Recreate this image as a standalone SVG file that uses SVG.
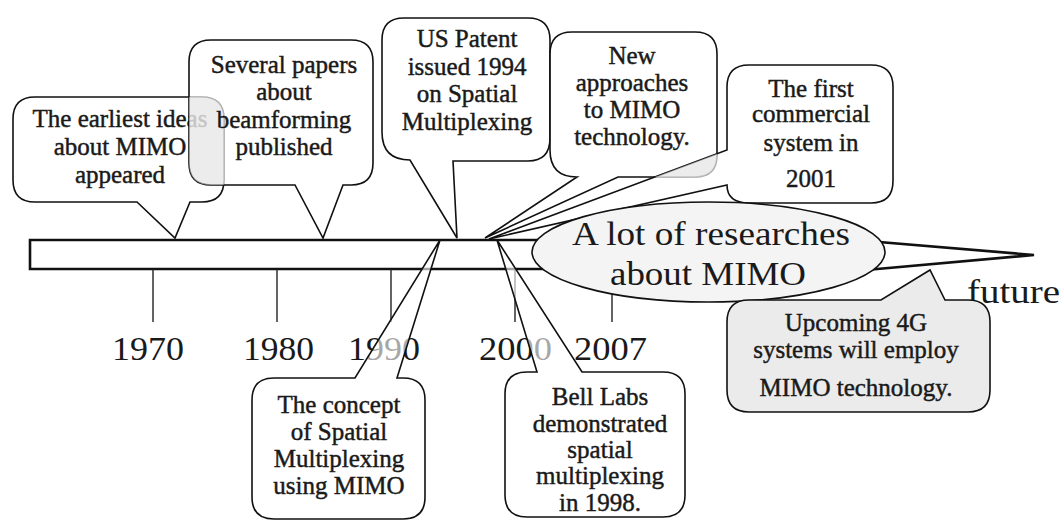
<svg xmlns="http://www.w3.org/2000/svg" width="1064" height="520" viewBox="0 0 1064 520">
<style>
.co{fill:#ffffff;fill-opacity:0.62;stroke:#111;stroke-width:1.6;stroke-linejoin:miter}
.ct{font-family:"Liberation Serif","Times New Roman",serif;font-size:25px;fill:#1a1a1a;stroke:#1a1a1a;stroke-width:0.45;text-anchor:middle}
.yr{font-family:"Liberation Serif","Times New Roman",serif;font-size:33px;fill:#1a1a1a}
.big{font-family:"Liberation Serif","Times New Roman",serif;font-size:34px;fill:#1a1a1a}
.tick{stroke:#222;stroke-width:1.4}
.ov{fill:#dcdcdc;fill-opacity:0.55}
</style>
<defs>
<clipPath id="clip1"><path d="M35,97 H202 Q224,97 224,119 V180 Q224,202 202,202 H35 Q13,202 13,180 V119 Q13,97 35,97 Z"/></clipPath>
<clipPath id="clip4"><path d="M572,32 H695 Q717,32 717,54 V155 Q717,177 695,177 H577 Q550,177 550,150 V54 Q550,32 572,32 Z"/></clipPath>
</defs>
<rect width="1064" height="520" fill="#ffffff"/>

<g id="timeline">
<path d="M30,240 H855 L1034,255 L855,271 L845,269 H30 Z" fill="#ffffff" stroke="#111" stroke-width="2.6" stroke-linejoin="miter"/>
</g>

<g id="connectors">
<line class="tick" x1="153" y1="269" x2="153" y2="322"/>
<line class="tick" x1="277" y1="269" x2="277" y2="322"/>
<line class="tick" x1="391" y1="269" x2="391" y2="322"/>
<line class="tick" x1="515" y1="269" x2="515" y2="322"/>
<line class="tick" x1="612" y1="269" x2="612" y2="322"/>
</g>

<g id="years">
<text class="yr" x="112" y="360" textLength="72" lengthAdjust="spacingAndGlyphs">1970</text>
<text class="yr" x="243" y="360" textLength="71" lengthAdjust="spacingAndGlyphs">1980</text>
<text class="yr" x="348" y="360" textLength="72" lengthAdjust="spacingAndGlyphs">1990</text>
<text class="yr" x="479" y="360" textLength="73" lengthAdjust="spacingAndGlyphs">2000</text>
<text class="yr" x="574" y="360" textLength="73" lengthAdjust="spacingAndGlyphs">2007</text>
<text class="yr" x="967" y="303" textLength="93" lengthAdjust="spacingAndGlyphs">future</text>
</g>

<g id="c1">
<path class="co" d="M35,97 H202 Q224,97 224,119 V180 Q224,202 202,202 H190 L175,238 L137,202 H35 Q13,202 13,180 V119 Q13,97 35,97 Z"/>
<text class="ct" x="120" y="127">The earliest ideas</text>
<text class="ct" x="120" y="155">about MIMO</text>
<text class="ct" x="120" y="183">appeared</text>
</g>

<g id="c2">
<path class="co" d="M211,40 H351 Q373,40 373,62 V163 Q373,185 351,185 H343 L323,238 L295,185 H211 Q189,185 189,163 V62 Q189,40 211,40 Z"/>
<path class="ov" clip-path="url(#clip1)" d="M211,40 H351 Q373,40 373,62 V163 Q373,185 351,185 H211 Q189,185 189,163 V62 Q189,40 211,40 Z"/>
<text class="ct" x="284" y="73">Several papers</text>
<text class="ct" x="284" y="100">about</text>
<text class="ct" x="284" y="128">beamforming</text>
<text class="ct" x="284" y="155">published</text>
</g>

<g id="c3">
<path class="co" d="M404,18 H528 Q550,18 550,40 V138 Q550,161 528,161 H453 L457,238 L410,160 Q382,160 382,132 V40 Q382,18 404,18 Z"/>
<text class="ct" x="467" y="47">US Patent</text>
<text class="ct" x="467" y="75">issued 1994</text>
<text class="ct" x="467" y="102">on Spatial</text>
<text class="ct" x="467" y="130">Multiplexing</text>
</g>

<g id="c4">
<path class="co" d="M572,32 H695 Q717,32 717,54 V155 Q717,177 695,177 H618 L485,238 L577,177 Q550,177 550,150 V54 Q550,32 572,32 Z"/>
<text class="ct" x="632" y="64">New</text>
<text class="ct" x="632" y="91">approaches</text>
<text class="ct" x="632" y="118">to MIMO</text>
<text class="ct" x="632" y="145">technology.</text>
</g>

<g id="c5">
<path class="co" d="M749,65 H871 Q893,65 893,87 V181 Q893,203 871,203 H749 Q727,203 727,185 L489,239 L727,150 V87 Q727,65 749,65 Z"/>
<path class="ov" clip-path="url(#clip4)" d="M749,65 H871 Q893,65 893,87 V181 Q893,203 871,203 H749 Q727,203 727,185 L489,239 L727,150 V87 Q727,65 749,65 Z"/>
<text class="ct" x="811" y="97">The first</text>
<text class="ct" x="811" y="122">commercial</text>
<text class="ct" x="811" y="151">system in</text>
<text class="ct" x="811" y="187">2001</text>
</g>

<g id="c6">
<path class="co" d="M274,378 H355 L440,240 L397,378 H403 Q425,378 425,400 V497 Q425,519 403,519 H274 Q252,519 252,497 V400 Q252,378 274,378 Z"/>
<text class="ct" x="339" y="413">The concept</text>
<text class="ct" x="339" y="440">of Spatial</text>
<text class="ct" x="339" y="467">Multiplexing</text>
<text class="ct" x="339" y="494">using MIMO</text>
</g>

<g id="c7">
<path class="co" d="M527,372 H537 L497,240 L582,372 H663 Q685,372 685,394 V495 Q685,517 663,517 H527 Q505,517 505,495 V394 Q505,372 527,372 Z"/>
<text class="ct" x="600" y="405">Bell Labs</text>
<text class="ct" x="600" y="432">demonstrated</text>
<text class="ct" x="600" y="458">spatial</text>
<text class="ct" x="600" y="484">multiplexing</text>
<text class="ct" x="600" y="511">in 1998.</text>
</g>

<g id="ellipse">
<ellipse cx="708.5" cy="252" rx="176.5" ry="50" fill="#f4f4f4" stroke="#111" stroke-width="1.6"/>
<text class="big" x="572" y="245" textLength="278" lengthAdjust="spacingAndGlyphs">A lot of researches</text>
<text class="big" x="610" y="285" textLength="196" lengthAdjust="spacingAndGlyphs">about MIMO</text>
</g>

<g id="c8">
<path d="M749,300 H881 L930,270 L945,300 H968 Q990,300 990,322 V390 Q990,412 968,412 H749 Q727,412 727,390 V322 Q727,300 749,300 Z" fill="#ebebeb" stroke="#111" stroke-width="1.6"/>
<text class="ct" x="856" y="331">Upcoming 4G</text>
<text class="ct" x="856" y="358">systems will employ</text>
<text class="ct" x="856" y="396">MIMO technology.</text>
</g>
</svg>
